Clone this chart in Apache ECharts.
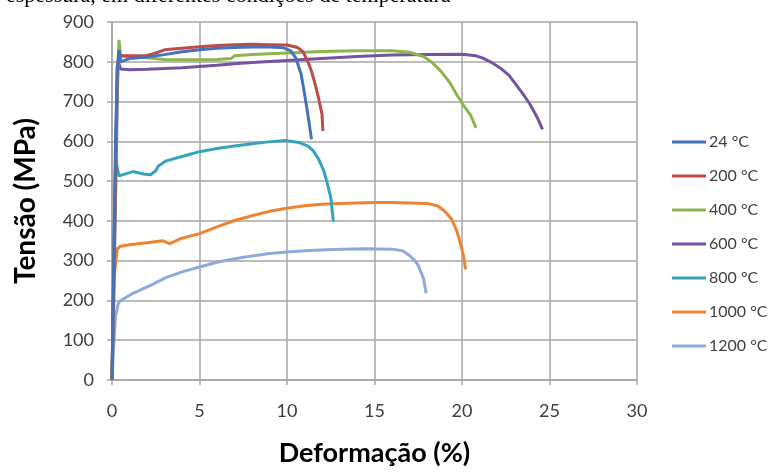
<!DOCTYPE html>
<html>
<head>
<meta charset="utf-8">
<script src="https://cdn.jsdelivr.net/npm/echarts@6/dist/echarts.min.js"></script>
<style>
html,body{margin:0;padding:0;background:#fff;}
#chart{width:773px;height:472px;}
</style>
</head>
<body>
<div id="chart"></div>
<script>
// ---- Data ----
const seriesNames = ['24 °C', '200 °C', '400 °C', '600 °C', '800 °C', '1000 °C', '1200 °C'];
const xTicks = [0, 5, 10, 15, 20, 25, 30];
const yTicks = [0, 100, 200, 300, 400, 500, 600, 700, 800, 900];

const strain24 = [0, 0.1, 0.2, 0.3, 0.4, 0.5, 1, 2, 3, 4, 5, 6, 7, 8, 9, 9.8, 10.2, 10.5, 10.8, 11.0, 11.2, 11.4];
const stress24 = [0, 300, 600, 780, 830, 800, 808, 812, 818, 825, 830, 834, 836, 837, 837, 835, 828, 810, 770, 720, 665, 605];

const strain200 = [0, 0.15, 0.3, 0.5, 1, 2, 2.5, 3, 4, 5, 6, 7, 8, 9, 10, 10.6, 10.9, 11.2, 11.4, 11.6, 11.8, 12.0, 12.05];
const stress200 = [0, 400, 790, 815, 815, 816, 822, 830, 834, 838, 841, 843, 844, 843, 842, 836, 826, 800, 776, 745, 709, 668, 626];

const strain400 = [0, 0.15, 0.3, 0.4, 0.5, 1, 2, 3, 4, 5, 6, 6.8, 7, 8, 10, 12, 14, 16, 17, 17.8, 18.3, 18.8, 19.3, 19.7, 20.1, 20.5, 20.8];
const stress400 = [0, 400, 750, 855, 815, 812, 810, 806, 805, 805, 806, 808, 815, 818, 822, 826, 828, 828, 824, 813, 798, 776, 748, 717, 690, 665, 634];

const strain600 = [0, 0.1, 0.2, 0.3, 0.35, 0.5, 1, 2, 3, 4, 5, 6, 7, 8, 10, 12, 14, 16, 18, 20, 20.8, 21.2, 21.7, 22.2, 22.7, 23.1, 23.5, 23.9, 24.3, 24.6];
const stress600 = [0, 200, 450, 700, 800, 782, 780, 781, 783, 785, 788, 791, 795, 798, 803, 808, 813, 817, 818, 819, 815, 809, 798, 784, 765, 742, 718, 692, 660, 630];

const strain800 = [0, 0.1, 0.2, 0.4, 0.5, 1.2, 1.8, 2.2, 2.5, 2.65, 3.1, 4.1, 5, 6, 7, 8, 8.8, 9.9, 10.7, 11.2, 11.5, 11.8, 12.1, 12.3, 12.5, 12.65];
const stress800 = [0, 300, 555, 513, 517, 524, 518, 516, 526, 538, 551, 563, 574, 582, 588, 594, 598, 602, 597, 588, 576, 556, 526, 495, 459, 398];

const strain1000 = [0, 0.05, 0.1, 0.3, 0.5, 1, 2, 2.9, 3.3, 3.9, 5, 6, 7, 8, 9, 10, 11, 12, 13, 14, 15, 16, 17, 18, 18.6, 19.0, 19.4, 19.7, 19.9, 20.1, 20.2];
const stress1000 = [0, 150, 250, 330, 336, 340, 345, 350, 343, 355, 368, 385, 401, 413, 424, 432, 438, 442, 444, 445, 446, 446, 445, 444, 438, 425, 405, 375, 345, 310, 278];

const strain1200 = [0, 0.1, 0.2, 0.36, 0.5, 1.2, 2.2, 3.1, 4.1, 5, 6, 7, 8, 9, 10, 11, 12.6, 14.5, 16, 16.6, 17.0, 17.3, 17.5, 17.8, 17.95];
const stress1200 = [0, 90, 160, 193, 200, 218, 238, 258, 273, 284, 296, 305, 312, 318, 322, 325, 328, 330, 329, 325, 313, 300, 288, 255, 218];

const seriesColors = ['#4573b9', '#be4b48', '#8db54c', '#7454a0', '#35a3bd', '#ee8433', '#8eaadb'];

// ---- Build chart ----
const strains = [strain24, strain200, strain400, strain600, strain800, strain1000, strain1200];
const stresses = [stress24, stress200, stress400, stress600, stress800, stress1000, stress1200];
const zip = (xs, ys) => xs.map((x, i) => [x, ys[i]]);

const chart = echarts.init(document.getElementById('chart'), null, {renderer: 'canvas'});
const gridColor = '#a6a6a6';
const tickFont = 'Lato, "Open Sans", sans-serif';

chart.setOption({
  animation: false,
  backgroundColor: '#ffffff',
  color: seriesColors,
  grid: {left: 112, right: 136, top: 22, bottom: 90, containLabel: false},
  graphic: [{
    type: 'text',
    left: 6,
    top: -15,
    silent: true,
    style: {
      text: 'espessura, em diferentes condições de temperatura',
      font: '22px "Liberation Serif", "DejaVu Serif", serif',
      fill: '#000'
    }
  }],
  legend: {
    orient: 'vertical',
    left: 672,
    top: 134,
    padding: 0,
    itemWidth: 34,
    itemHeight: 3,
    itemGap: 18,
    icon: 'rect',
    data: seriesNames,
    textStyle: {fontFamily: tickFont, fontSize: 16, color: '#404040', padding: [0, 0, 0, -2]}
  },
  xAxis: {
    type: 'value',
    min: xTicks[0],
    max: xTicks[xTicks.length - 1],
    interval: 5,
    name: 'Deformação (%)',
    nameLocation: 'middle',
    nameGap: 60,
    nameTextStyle: {fontFamily: tickFont, fontWeight: 'bold', fontSize: 27, color: '#000'},
    axisLine: {show: true, lineStyle: {color: gridColor, width: 1.5}},
    axisTick: {show: true, length: 5, lineStyle: {color: gridColor, width: 1.5}},
    axisLabel: {margin: 22, fontFamily: tickFont, fontSize: 18, color: '#404040'},
    splitLine: {show: true, lineStyle: {color: gridColor, width: 1.5}}
  },
  yAxis: {
    type: 'value',
    min: yTicks[0],
    max: yTicks[yTicks.length - 1],
    interval: 100,
    name: 'Tensão (MPa)',
    nameLocation: 'middle',
    nameGap: 72,
    nameTextStyle: {fontFamily: tickFont, fontWeight: 'bold', fontSize: 28, color: '#000'},
    axisLine: {show: true, lineStyle: {color: gridColor, width: 1.5}},
    axisTick: {show: true, length: 5, lineStyle: {color: gridColor, width: 1.5}},
    axisLabel: {margin: 18, fontFamily: tickFont, fontSize: 18, color: '#404040'},
    splitLine: {show: true, lineStyle: {color: gridColor, width: 1.5}}
  },
  series: seriesNames.map((name, i) => ({
    name: name,
    type: 'line',
    data: zip(strains[i], stresses[i]),
    showSymbol: false,
    symbol: 'none',
    smooth: false,
    z: 10 - i,
    lineStyle: {width: 3, color: seriesColors[i]},
    itemStyle: {color: seriesColors[i]}
  }))
});
</script>
</body>
</html>
